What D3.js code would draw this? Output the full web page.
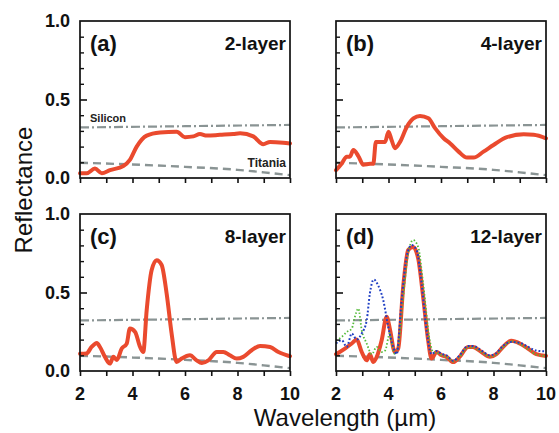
<!DOCTYPE html>
<html><head><meta charset="utf-8">
<script src="https://cdn.jsdelivr.net/npm/d3@7"></script>
<style>body{margin:0;background:#fff}svg{display:block}</style>
</head><body><svg id="c" width="559" height="433"></svg>
<script>
const xTicks = [2, 4, 6, 8, 10];
const xMinor = [3, 5, 7, 9];
const yTicks = [0.0, 0.5, 1.0];
const yTickLabels = ["0.0", "0.5", "1.0"];
const panelIds = ["(a)", "(b)", "(c)", "(d)"];
const panelNames = ["2-layer", "4-layer", "8-layer", "12-layer"];

const silicon = [[2, 0.322], [6, 0.33], [10, 0.338]];
const titania = [[2, 0.097], [4, 0.086], [6, 0.071], [8, 0.052], [9, 0.036], [10, 0.018]];

const layer2 = [[2.0,0.03],[2.25,0.03],[2.57,0.06],[2.83,0.03],[3.14,0.05],[3.65,0.076],[3.9,0.115],[4.16,0.2],[4.54,0.27],[5.05,0.29],[5.68,0.295],[6.0,0.26],[6.32,0.265],[6.57,0.28],[6.83,0.27],[7.33,0.275],[7.84,0.28],[8.1,0.285],[8.6,0.265],[8.98,0.215],[9.24,0.23],[9.74,0.225],[10.0,0.22]];

const layer4 = [[2.0,0.05],[2.22,0.093],[2.41,0.136],[2.53,0.136],[2.66,0.178],[2.85,0.14],[3.04,0.085],[3.3,0.09],[3.42,0.09],[3.52,0.23],[3.74,0.23],[3.87,0.23],[4.0,0.295],[4.12,0.24],[4.25,0.19],[4.44,0.23],[4.7,0.327],[4.95,0.38],[5.2,0.395],[5.52,0.38],[5.78,0.316],[6.1,0.253],[6.35,0.22],[6.67,0.168],[6.99,0.13],[7.24,0.13],[7.62,0.168],[8.0,0.21],[8.51,0.26],[9.15,0.278],[9.53,0.275],[10.0,0.253]];

const layer8 = [[2.0,0.11],[2.25,0.112],[2.44,0.153],[2.64,0.179],[2.76,0.153],[2.95,0.09],[3.14,0.047],[3.27,0.09],[3.4,0.07],[3.59,0.143],[3.78,0.175],[3.9,0.27],[4.1,0.249],[4.29,0.153],[4.41,0.121],[4.54,0.387],[4.73,0.643],[4.92,0.706],[5.11,0.675],[5.3,0.494],[5.49,0.239],[5.68,0.057],[5.87,0.079],[6.19,0.1],[6.44,0.068],[6.64,0.051],[6.89,0.068],[7.21,0.121],[7.46,0.121],[7.71,0.1],[7.97,0.079],[8.22,0.09],[8.54,0.132],[8.86,0.16],[9.24,0.153],[9.56,0.121],[10.0,0.094]];

const layer12 = [[2.0,0.107],[2.34,0.143],[2.6,0.175],[2.79,0.2],[2.98,0.121],[3.17,0.068],[3.29,0.107],[3.42,0.057],[3.55,0.089],[3.74,0.196],[3.93,0.345],[4.05,0.27],[4.24,0.121],[4.37,0.143],[4.56,0.536],[4.75,0.77],[4.94,0.79],[5.13,0.717],[5.32,0.472],[5.51,0.196],[5.64,0.079],[5.83,0.121],[6.02,0.1],[6.21,0.09],[6.46,0.057],[6.71,0.09],[7.03,0.153],[7.22,0.153],[7.54,0.121],[7.86,0.09],[8.11,0.107],[8.36,0.153],[8.68,0.192],[9.0,0.175],[9.31,0.143],[9.63,0.107],[10.0,0.096]];

const layer12Blue = [[2.0,0.175],[2.22,0.196],[2.41,0.153],[2.6,0.239],[2.79,0.2],[2.98,0.239],[3.17,0.323],[3.29,0.494],[3.44,0.583],[3.6,0.547],[3.8,0.451],[3.99,0.281],[4.18,0.153],[4.31,0.107],[4.5,0.45],[4.69,0.728],[4.88,0.802],[5.07,0.77],[5.26,0.557],[5.45,0.26],[5.64,0.107],[5.83,0.128],[6.02,0.11],[6.21,0.1],[6.46,0.065],[6.71,0.1],[7.03,0.16],[7.22,0.16],[7.54,0.13],[7.86,0.1],[8.11,0.115],[8.36,0.16],[8.68,0.185],[9.0,0.18],[9.31,0.155],[9.63,0.13],[10.0,0.125]];

const layer12Green = [[2.0,0.196],[2.22,0.217],[2.41,0.249],[2.6,0.27],[2.72,0.345],[2.85,0.398],[2.98,0.26],[3.17,0.175],[3.36,0.107],[3.55,0.153],[3.74,0.121],[3.87,0.13],[4.05,0.239],[4.1,0.2],[4.24,0.107],[4.37,0.153],[4.56,0.472],[4.75,0.749],[4.94,0.834],[5.13,0.79],[5.32,0.557],[5.57,0.196],[5.7,0.121],[5.85,0.115],[6.02,0.1],[6.21,0.09],[6.46,0.06],[6.71,0.09],[7.03,0.15],[7.22,0.15],[7.54,0.12],[7.86,0.09],[8.11,0.105],[8.36,0.15],[8.68,0.19],[9.0,0.172],[9.31,0.14],[9.63,0.105],[10.0,0.095]];

const mainSeries = [layer2, layer4, layer8, layer12];

const svg = d3.select("#c");
const FONT = "'Liberation Sans', Arial, Helvetica, sans-serif";
const RED = "#ea4a2e", GREY = "#8a9494";

const panels = [
  {x0: 80, y0: 21, w: 210, h: 157, col: 0, row: 0},
  {x0: 336, y0: 21, w: 210, h: 157, col: 1, row: 0},
  {x0: 80, y0: 214, w: 210, h: 157, col: 0, row: 1},
  {x0: 336, y0: 214, w: 210, h: 157, col: 1, row: 1}
];

panels.forEach((p, i) => {
  const x = d3.scaleLinear().domain([2, 10]).range([p.x0, p.x0 + p.w]);
  const y = d3.scaleLinear().domain([0, 1]).range([p.y0 + p.h, p.y0]);
  const g = svg.append("g");
  const line = d3.line().x(d => x(d[0])).y(d => y(d[1])).curve(d3.curveMonotoneX);

  g.append("path").attr("d", line(silicon)).attr("fill", "none")
    .attr("stroke", GREY).attr("stroke-width", 2.2).attr("stroke-dasharray", "9,3,2,3");
  g.append("path").attr("d", line(titania)).attr("fill", "none")
    .attr("stroke", GREY).attr("stroke-width", 2.4).attr("stroke-dasharray", "8,5");

  g.append("path").attr("d", line(mainSeries[i])).attr("fill", "none")
    .attr("stroke", RED).attr("stroke-width", 4).attr("stroke-linejoin", "round").attr("stroke-linecap", "round");

  if (i === 3) {
    g.append("path").attr("d", line(layer12Green)).attr("fill", "none")
      .attr("stroke", "#55bb3a").attr("stroke-width", 1.8).attr("stroke-dasharray", "1.5,2");
    g.append("path").attr("d", line(layer12Blue)).attr("fill", "none")
      .attr("stroke", "#1f3fc4").attr("stroke-width", 2).attr("stroke-dasharray", "1.8,2");
  }

  g.append("rect").attr("x", p.x0).attr("y", p.y0).attr("width", p.w).attr("height", p.h)
    .attr("fill", "none").attr("stroke", "#111").attr("stroke-width", 1.7);

  const xb = d3.axisBottom(x).tickValues(xTicks.concat(xMinor)).tickSize(5).tickFormat("");
  const ax = g.append("g").attr("transform", `translate(0,${p.y0 + p.h})`).call(xb);
  ax.select(".domain").remove();
  ax.selectAll("line").attr("stroke", "#111").attr("stroke-width", 1.6);

  const yMinorVals = d3.range(1, 10).map(v => v / 10).filter(v => Math.abs(v - 0.5) > 1e-6);
  const yl = d3.axisRight(y).tickValues(yMinorVals).tickSize(4).tickFormat("");
  const ay = g.append("g").attr("transform", `translate(${p.x0},0)`).call(yl);
  ay.select(".domain").remove();
  ay.selectAll("line").attr("stroke", "#111").attr("stroke-width", 1.4);
  const ylM = d3.axisRight(y).tickValues([0.5]).tickSize(7).tickFormat("");
  const ay2 = g.append("g").attr("transform", `translate(${p.x0},0)`).call(ylM);
  ay2.select(".domain").remove();
  ay2.selectAll("line").attr("stroke", "#111").attr("stroke-width", 1.6);

  if (p.col === 0) {
    yTicks.forEach((v, k) => {
      g.append("text").attr("x", p.x0 - 10).attr("y", y(v)).attr("dy", "0.36em")
        .attr("text-anchor", "end").attr("font-family", FONT).attr("font-weight", "bold")
        .attr("font-size", 18).attr("fill", "#111").text(yTickLabels[k]);
    });
  }
  if (p.row === 1) {
    xTicks.forEach(v => {
      g.append("text").attr("x", x(v)).attr("y", p.y0 + p.h + 29)
        .attr("text-anchor", "middle").attr("font-family", FONT).attr("font-weight", "bold")
        .attr("font-size", 18).attr("fill", "#111").text(v);
    });
  }

  g.append("text").attr("x", p.x0 + 10).attr("y", p.y0 + 30)
    .attr("font-family", FONT).attr("font-weight", "bold").attr("font-size", 22)
    .attr("fill", "#111").text(panelIds[i]);
  g.append("text").attr("x", p.x0 + p.w - 4).attr("y", p.y0 + 29).attr("text-anchor", "end")
    .attr("font-family", FONT).attr("font-weight", "bold").attr("font-size", 19)
    .attr("fill", "#111").text(panelNames[i]);

  if (i === 0) {
    g.append("text").attr("x", p.x0 + 10).attr("y", y(0.355))
      .attr("font-family", FONT).attr("font-weight", "bold").attr("font-size", 11)
      .attr("fill", "#222").text("Silicon");
    g.append("text").attr("x", p.x0 + p.w - 4).attr("y", y(0.07)).attr("text-anchor", "end")
      .attr("font-family", FONT).attr("font-weight", "bold").attr("font-size", 12)
      .attr("fill", "#222").text("Titania");
  }
});

svg.append("text").attr("transform", "translate(32,190) rotate(-90)")
  .attr("text-anchor", "middle").attr("font-family", FONT).attr("font-size", 24)
  .attr("fill", "#111").text("Reflectance");
svg.append("text").attr("x", 345).attr("y", 426)
  .attr("text-anchor", "middle").attr("font-family", FONT).attr("font-size", 24)
  .attr("fill", "#111").text("Wavelength (\u00b5m)");
</script></body></html>
